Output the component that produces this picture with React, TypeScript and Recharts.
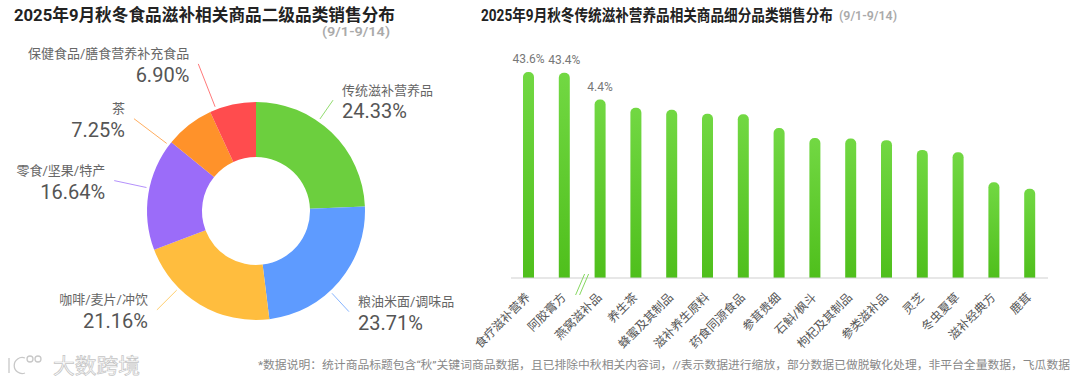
import React from 'react';
import { PieChart, Pie, Cell, BarChart, Bar, XAxis, YAxis, LabelList } from 'recharts';

// 左图：二级品类销售占比
const categories = ['传统滋补营养品', '粮油米面/调味品', '咖啡/麦片/冲饮', '零食/坚果/特产', '茶', '保健食品/膳食营养补充食品'];
const shares = [24.33, 23.71, 21.16, 16.64, 7.25, 6.9];
const sliceColors = ['#6CCF3E', '#5E9BFF', '#FFBD3E', '#9B6CF9', '#FF922A', '#FF4C4E'];

// 右图：细分品类（已缩放的柱高 + 显示标签）
const subCategories = ['食疗滋补营养', '阿胶膏方', '燕窝滋补品', '养生茶', '蜂蜜及其制品', '滋补养生原料', '药食同源食品', '参茸贵细', '石斛/枫斗', '枸杞及其制品', '参类滋补品', '灵芝', '冬虫夏草', '滋补经典方', '鹿茸'];
const scaledValues = [5.08, 5.06, 4.4, 4.2, 4.15, 4.05, 4.04, 3.7, 3.45, 3.44, 3.4, 3.16, 3.1, 2.36, 2.2];
const barLabels = ['43.6%', '43.4%', '4.4%', '', '', '', '', '', '', '', '', '', '', '', ''];

const pieData = categories.map((name, i) => ({ name, value: shares[i], color: sliceColors[i] }));
const barData = subCategories.map((name, i) => ({ name, value: scaledValues[i], label: barLabels[i] }));

// 标签引导线布局微调（相对于扇区中线角度，避免左侧小扇区标签重叠）
const labelAngleShift = [9, -7, -14, -3, 15, 9];
const labelReach = [26, 28, 31, 36, 44, 49];

const FONT = "Roboto, 'Noto Sans CJK SC', sans-serif";
const RADIAN = Math.PI / 180;

const renderPieLabel = (props: any) => {
  const { cx, cy, midAngle, outerRadius, index, payload } = props;
  const ang = midAngle + labelAngleShift[index];
  const cos = Math.cos(-ang * RADIAN);
  const sin = Math.sin(-ang * RADIAN);
  const sx = cx + (outerRadius + 3) * cos;
  const sy = cy + (outerRadius + 3) * sin;
  const ex = cx + (outerRadius + labelReach[index]) * cos;
  const ey = cy + (outerRadius + labelReach[index]) * sin;
  const right = cos >= 0;
  const tx = ex + (right ? 9 : -9);
  const anchor = right ? 'start' : 'end';
  return (
    <g key={`lbl-${index}`}>
      <line x1={sx} y1={sy} x2={ex} y2={ey} stroke={payload.color} strokeWidth={1} strokeOpacity={0.75} />
      <text x={tx} y={ey - 5.5} textAnchor={anchor} fontSize={13} fill="#666" fontFamily={FONT}>
        {payload.name}
      </text>
      <text x={tx} y={ey + 18} textAnchor={anchor} fontSize={20} fill="#555" fontFamily={FONT}>
        {payload.value.toFixed(2)}%
      </text>
    </g>
  );
};

const renderTick = (props: any) => {
  const { x, y, payload, index } = props;
  const band = 537 / subCategories.length;
  return (
    <g>
      {index === 2 && (
        <g stroke="#86D860" strokeWidth={1}>
          <line x1={x - band / 2 + 2} y1={y - 12} x2={x - band / 2 - 7} y2={y + 9} />
          <line x1={x - band / 2 + 6} y1={y - 12} x2={x - band / 2 - 3} y2={y + 9} />
        </g>
      )}
      <text
        x={x + 2}
        y={y + 12}
        textAnchor="end"
        fontSize={12}
        fill="#555"
        fontFamily={FONT}
        transform={`rotate(-45, ${x + 2}, ${y + 12})`}
      >
        {payload.value}
      </text>
    </g>
  );
};

const App = () => {
  return (
    <div style={{ position: 'absolute', left: 0, top: 0, width: 1080, height: 387, background: '#fff', fontFamily: FONT }}>
      <div style={{ position: 'absolute', left: 0, top: 0 }}>
        <PieChart width={500} height={387} margin={{ top: 0, right: 0, bottom: 0, left: 0 }}>
          <Pie
            data={pieData}
            dataKey="value"
            cx={256}
            cy={211}
            innerRadius={54}
            outerRadius={109}
            startAngle={90}
            endAngle={-270}
            stroke="none"
            label={renderPieLabel}
            labelLine={false}
            isAnimationActive={false}
          >
            {pieData.map((entry, index) => (
              <Cell key={`cell-${index}`} fill={entry.color} />
            ))}
          </Pie>
        </PieChart>
      </div>

      <div style={{ position: 'absolute', left: 440, top: 0 }}>
        <BarChart width={640} height={387} data={barData} margin={{ top: 55, right: 32, bottom: 29, left: 71 }} barSize={11}>
          <defs>
            <linearGradient id="barGreen" x1="0" y1="0" x2="0" y2="1">
              <stop offset="0%" stopColor="#72D843" />
              <stop offset="100%" stopColor="#4FBF1C" />
            </linearGradient>
          </defs>
          <XAxis
            dataKey="name"
            interval={0}
            height={80}
            tickLine={false}
            axisLine={{ stroke: '#cfcfcf' }}
            tick={renderTick}
          />
          <YAxis hide domain={[0, 5.5]} />
          <Bar dataKey="value" fill="url(#barGreen)" radius={[5, 5, 0, 0]} isAnimationActive={false}>
            <LabelList dataKey="label" position="top" offset={9} fontSize={12} fill="#777" fontFamily={FONT} />
          </Bar>
        </BarChart>
      </div>

      <svg width={1080} height={387} style={{ position: 'absolute', left: 0, top: 0, pointerEvents: 'none' }}>
        <text x={14} y={21} fontSize={16.5} fontWeight="bold" fill="#222" fontFamily={FONT} textLength={381} lengthAdjust="spacingAndGlyphs">
          2025年9月秋冬食品滋补相关商品二级品类销售分布
        </text>
        <text x={322} y={36} fontSize={12.5} fontWeight={600} fill="#aaa" fontFamily={FONT} textLength={68} lengthAdjust="spacingAndGlyphs">
          (9/1-9/14)
        </text>
        <g transform="translate(481,21) scale(0.85,1)">
          <text x={0} y={0} fontSize={16} fontWeight="bold" fill="#222" fontFamily={FONT} textLength={414} lengthAdjust="spacingAndGlyphs">
            2025年9月秋冬传统滋补营养品相关商品细分品类销售分布
          </text>
        </g>
        <text x={839} y={20} fontSize={12} fontWeight={600} fill="#aaa" fontFamily={FONT} textLength={58} lengthAdjust="spacingAndGlyphs">
          (9/1-9/14)
        </text>
        <text x={258} y={369} fontSize={11.5} fill="#888" fontFamily={FONT} textLength={812} lengthAdjust="spacingAndGlyphs">
          *数据说明：统计商品标题包含“秋”关键词商品数据，且已排除中秋相关内容词，//表示数据进行缩放，部分数据已做脱敏化处理，非平台全量数据，飞瓜数据
        </text>
        <g stroke="#c8c8c8" strokeWidth={1.3} fill="none">
          <path d="M9 358 L9 373" />
          <path d="M25 358 A8 8 0 1 0 25 373" />
          <circle cx={30} cy={359} r={3} />
          <circle cx={38} cy={359} r={3} />
        </g>
        <text x={53} y={373} fontSize={21} fill="#ffffff" stroke="#c4c4c4" strokeWidth={0.7} fontFamily={FONT} textLength={87} lengthAdjust="spacingAndGlyphs">
          大数跨境
        </text>
      </svg>
    </div>
  );
};

export default App;
